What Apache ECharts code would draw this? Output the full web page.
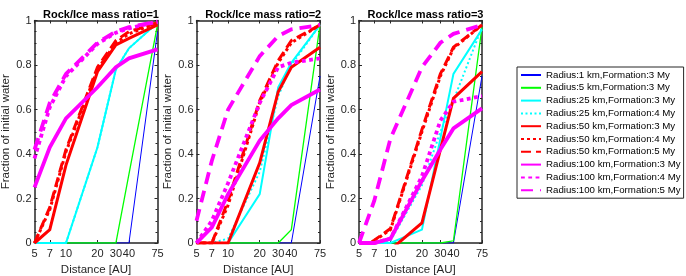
<!DOCTYPE html>
<html><head><meta charset="utf-8">
<script src="https://cdn.jsdelivr.net/npm/echarts@6/dist/echarts.min.js"></script>
<style>html,body{margin:0;padding:0;background:#fff}#c{width:686px;height:276px}</style>
</head><body><div id="c"></div>
<script>
// ---- data ----
const distances = [5, 7, 10, 20, 30, 40, 75];
const xTickValues = [5, 7, 10, 20, 30, 40, 75];
const panelTitles = ['Rock/Ice mass ratio=1', 'Rock/Ice mass ratio=2', 'Rock/Ice mass ratio=3'];
const seriesNames = [
  'Radius:1 km,Formation:3 My',
  'Radius:5 km,Formation:3 My',
  'Radius:25 km,Formation:3 My',
  'Radius:25 km,Formation:4 My',
  'Radius:50 km,Formation:3 My',
  'Radius:50 km,Formation:4 My',
  'Radius:50 km,Formation:5 My',
  'Radius:100 km,Formation:3 My',
  'Radius:100 km,Formation:4 My',
  'Radius:100 km,Formation:5 My'
];
// one row per series (same order as seriesNames), one value per distance
const ratio1Values = [
  [0, 0, 0, 0, 0, 0, 0.95],
  [0, 0, 0, 0, 0, 0.31, 0.98],
  [0, 0, 0, 0.43, 0.78, 0.875, 0.99],
  [0, 0, 0, 0.43, 0.78, 0.875, 0.99],
  [0, 0.06, 0.35, 0.77, 0.89, 0.92, 0.98],
  [0, 0.15, 0.41, 0.78, 0.90, 0.94, 0.99],
  [0, 0.16, 0.42, 0.79, 0.91, 0.95, 0.99],
  [0.25, 0.43, 0.56, 0.70, 0.79, 0.83, 0.87],
  [0.38, 0.61, 0.75, 0.895, 0.945, 0.965, 0.995],
  [0.42, 0.63, 0.76, 0.90, 0.95, 0.97, 0.995]
];
const ratio2Values = [
  [0, 0, 0, 0, 0, 0, 0.75],
  [0, 0, 0, 0, 0, 0.06, 0.98],
  [0, 0, 0, 0.22, 0.70, 0.81, 0.98],
  [0, 0, 0.02, 0.32, 0.66, 0.80, 0.98],
  [0, 0, 0, 0.36, 0.68, 0.79, 0.88],
  [0, 0, 0.17, 0.63, 0.81, 0.90, 0.98],
  [0, 0, 0.19, 0.64, 0.82, 0.91, 0.98],
  [0, 0.07, 0.22, 0.46, 0.56, 0.62, 0.69],
  [0, 0.10, 0.27, 0.63, 0.79, 0.81, 0.83],
  [0.10, 0.37, 0.60, 0.84, 0.93, 0.96, 0.98]
];
const ratio3Values = [
  [0, 0, 0, 0, 0, 0, 0.75],
  [0, 0, 0, 0, 0, 0.01, 0.97],
  [0, 0, 0, 0.06, 0.47, 0.76, 0.96],
  [0, 0, 0.01, 0.26, 0.50, 0.64, 0.97],
  [-0.1, -0.07, -0.03, 0.09, 0.42, 0.65, 0.77],
  [-0.03, 0.01, 0.06, 0.50, 0.75, 0.875, 0.98],
  [-0.03, 0.012, 0.065, 0.51, 0.76, 0.88, 0.98],
  [0, 0, 0.02, 0.28, 0.42, 0.515, 0.605],
  [0, 0, 0.02, 0.30, 0.55, 0.635, 0.66],
  [0, 0.19, 0.47, 0.79, 0.90, 0.94, 0.98]
];
const panelValues = [ratio1Values, ratio2Values, ratio3Values];

// ---- styles ----
const colors = ['#0000ff', '#00ff00', '#00ffff', '#00ffff', '#ff0000', '#ff0000', '#ff0000', '#ff00ff', '#ff00ff', '#ff00ff'];
const widths = [1, 1.3, 2, 2, 3, 3, 3, 3.8, 3.8, 3.8];
const dashTypes = ['solid', 'solid', 'solid', [2, 2.5], 'solid', [3, 3], [10, 5], 'solid', [3.8, 3.5], [12, 7]];
const gridRects = [
  { left: 34.5, top: 20.5, width: 123, height: 222.5 },
  { left: 196.5, top: 20.5, width: 123.5, height: 222.5 },
  { left: 359, top: 20.5, width: 123, height: 222.5 }
];
const axisColor = '#262626';
const fontFamily = '"Liberation Sans", Arial, Helvetica, sans-serif';

const chart = echarts.init(document.getElementById('c'), null, { renderer: 'canvas' });

const xAxes = [], yAxes = [], series = [], titles = [];
gridRects.forEach((g, i) => {
  const baseX = {
    gridIndex: i, type: 'log', logBase: 10, min: 5, max: 75,
    axisLine: { show: true, onZero: false, lineStyle: { color: axisColor, width: 1.5 } },
    axisTick: { show: true, inside: true, length: 3, customValues: xTickValues, lineStyle: { color: axisColor, width: 1 } },
    minorTick: { show: false },
    splitLine: { show: false }
  };
  xAxes.push(Object.assign({}, baseX, {
    position: 'bottom',
    name: 'Distance [AU]', nameLocation: 'middle', nameGap: 17,
    nameTextStyle: { color: axisColor, fontSize: 11.5, fontFamily },
    axisLabel: { show: true, customValues: xTickValues, margin: 5, color: axisColor, fontSize: 11, fontFamily, hideOverlap: false }
  }));
  xAxes.push(Object.assign({}, baseX, { position: 'top', axisLabel: { show: false } }));
  const baseY = {
    gridIndex: i, type: 'value', min: 0, max: 1, interval: 0.2,
    axisLine: { show: true, onZero: false, lineStyle: { color: axisColor, width: 1.5 } },
    axisTick: { show: true, inside: true, length: 3, lineStyle: { color: axisColor, width: 1 } },
    minorTick: { show: true, splitNumber: 4, length: 2, lineStyle: { color: axisColor, width: 1 } },
    splitLine: { show: false }
  };
  yAxes.push(Object.assign({}, baseY, {
    position: 'left',
    name: 'Fraction of initial water', nameLocation: 'middle', nameGap: 19.5,
    nameTextStyle: { color: axisColor, fontSize: 11.5, fontFamily },
    axisLabel: { show: true, margin: 3, color: axisColor, fontSize: 11, fontFamily }
  }));
  yAxes.push(Object.assign({}, baseY, { position: 'right', axisLabel: { show: false } }));

  titles.push({
    text: panelTitles[i], left: g.left + g.width / 2, top: 4, textAlign: 'center',
    textStyle: { fontSize: 11, fontWeight: 'bold', color: '#000', fontFamily }
  });

  panelValues[i].forEach((vals, k) => {
    series.push({
      type: 'line', name: seriesNames[k],
      xAxisIndex: 2 * i, yAxisIndex: 2 * i,
      data: distances.map((d, j) => [d, vals[j]]),
      showSymbol: false, symbol: 'none', clip: true, animation: false,
      lineStyle: { color: colors[k], width: widths[k], type: dashTypes[k], cap: 'butt', join: 'miter' },
      itemStyle: { color: colors[k] },
      emphasis: { disabled: true }
    });
  });
});

chart.setOption({
  backgroundColor: '#fff',
  animation: false,
  title: titles,
  grid: gridRects.map(g => Object.assign({ containLabel: false, outerBoundsMode: 'none' }, g)),
  xAxis: xAxes,
  yAxis: yAxes,
  legend: {
    data: seriesNames, orient: 'vertical', left: 517, top: 67,
    itemWidth: 20, itemHeight: 12, itemGap: 0.8,
    padding: [2, 3, 2, 3],
    borderColor: axisColor, borderWidth: 1, backgroundColor: '#fff',
    selectedMode: false,
    itemStyle: { opacity: 0, borderWidth: 0 },
    textStyle: { fontSize: 9.7, color: '#000', fontFamily, lineHeight: 12 }
  },
  series
});
</script>
</body></html>
